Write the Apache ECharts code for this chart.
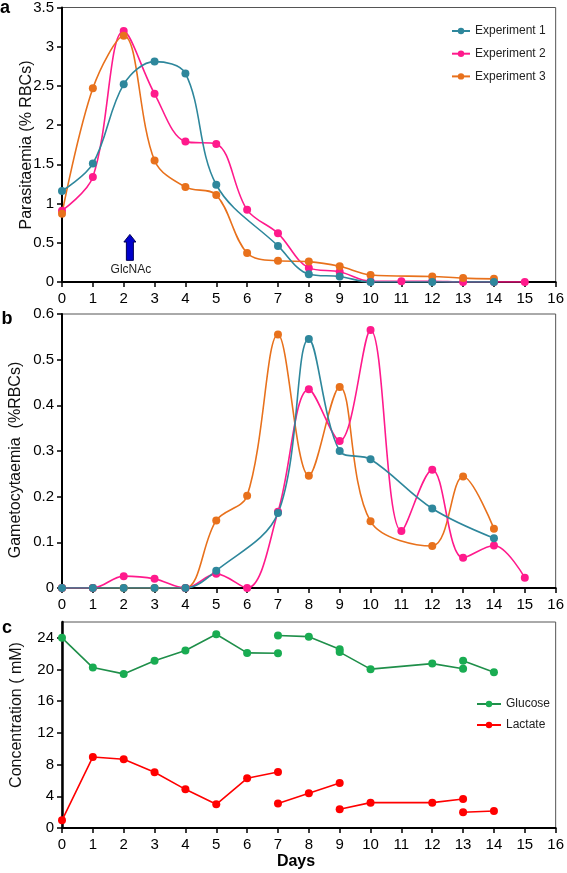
<!DOCTYPE html>
<html><head><meta charset="utf-8">
<script src="https://cdn.jsdelivr.net/npm/echarts@6/dist/echarts.min.js"></script>
<style>html,body{margin:0;padding:0;background:#fff}#c{width:567px;height:873px}</style>
</head><body><div id="c"></div>
<script>
// ---------- Data ----------
const dayTicks = [0,1,2,3,4,5,6,7,8,9,10,11,12,13,14,15,16];

// Panel a: Parasitaemia (% RBCs)
const aDays1 = [0,1,2,3,4,5,7,8,9,10,12,14];
const aExp1  = [1.16,1.51,2.52,2.81,2.66,1.24,0.46,0.10,0.07,0,0,0];
const aDays2 = [0,1,2,3,4,5,6,7,8,9,10,11,12,13,14,15];
const aExp2  = [0.91,1.34,3.2,2.4,1.79,1.76,0.92,0.62,0.18,0.13,0.01,0.01,0.01,0,0,0];
const aDays3 = [0,1,2,3,4,5,6,7,8,9,10,12,13,14];
const aExp3  = [0.87,2.47,3.14,1.55,1.21,1.11,0.37,0.27,0.26,0.2,0.09,0.07,0.05,0.04];
const aTicks = [0,0.5,1,1.5,2,2.5,3,3.5];

// Panel b: Gametocytaemia (%RBCs)
const bDays1 = [0,1,2,3,4,5,7,8,9,10,12,14];
const bExp1  = [0,0,0,0,0,0.038,0.164,0.545,0.30,0.282,0.174,0.109];
const bDays2 = [0,1,2,3,4,5,6,7,8,9,10,11,12,13,14,15];
const bExp2  = [0,0,0.026,0.02,0,0.031,0,0.167,0.435,0.322,0.565,0.125,0.259,0.066,0.093,0.0225];
const bDays3 = [0,1,2,3,4,5,6,7,8,9,10,12,13,14];
const bExp3  = [0,0,0,0,0,0.148,0.202,0.555,0.246,0.44,0.146,0.092,0.244,0.13];
const bTicks = [0,0.1,0.2,0.3,0.4,0.5,0.6];

// Panel c: Concentration (mM) — separate measurement runs
const gluDays = [[0,1,2,3,4,5,6,7],[7,8,9],[9,10,12,13],[13,14]];
const glucose = [[24.0,20.25,19.45,21.1,22.4,24.45,22.1,22.05],[24.3,24.15,22.55],[22.2,20.05,20.75,20.1],[21.1,19.65]];
const lacDays = [[0,1,2,3,4,5,6,7],[7,8,9],[9,10,12,13],[13,14]];
const lactate = [[0.97,8.97,8.67,7.03,4.88,2.99,6.27,7.07],[3.08,4.38,5.68],[2.36,3.2,3.2,3.66],[1.98,2.15]];
const cTicks = [0,4,8,12,16,20,24];

// ---------- Chart ----------
const chart = echarts.init(document.getElementById('c'), null, {renderer:'canvas', width:567, height:873});
const pair = (xs, ys) => xs.map((x,i)=>[x, ys[i]]);
const font = '"Liberation Sans", Arial, sans-serif';
const C1 = '#2E879C', C2 = '#FF1A8C', C3 = '#E8711C', CG = '#1F8F4A', CGm = '#19AC52', CL = '#FF0000';

function xAx(gi){
  return {type:'value', gridIndex:gi, min:0, max:16, interval:1,
    axisLine:{show:true, onZero:false, lineStyle:{color:'#000', width:2}},
    axisTick:{show:true, length:5, lineStyle:{color:'#000', width:1.5}},
    axisLabel:{margin:9, fontSize:15, color:'#000', fontFamily:font, customValues:dayTicks},
    splitLine:{show:false}};
}
function yAx(gi, max, interval, ticks, w){
  return {type:'value', gridIndex:gi, min:0, max:max, interval:interval,
    axisLine:{show:true, onZero:false, lineStyle:{color:'#000', width:w||2}},
    axisTick:{show:true, length:5, lineStyle:{color:'#000', width:1.5}, customValues:ticks},
    axisLabel:{margin:8, fontSize:15, color:'#000', fontFamily:font, customValues:ticks},
    splitLine:{show:false}};
}
function sm(name, color, xs, ys, gi){
  return {name:name, type:'line', xAxisIndex:gi, yAxisIndex:gi, data:pair(xs, ys),
    smooth:0.35, symbol:'circle', symbolSize:8, showSymbol:true,
    lineStyle:{color:color, width:1.6}, itemStyle:{color:color}};
}
function st(name, lineColor, markColor, xs, ys){
  return {name:name, type:'line', xAxisIndex:2, yAxisIndex:2, data:pair(xs, ys),
    symbol:'circle', symbolSize:8, lineStyle:{color:lineColor, width:1.6}, itemStyle:{color:markColor}};
}

const series = [
  sm('Experiment 2', C2, aDays2, aExp2, 0),
  sm('Experiment 3', C3, aDays3, aExp3, 0),
  sm('Experiment 1', C1, aDays1, aExp1, 0),
  sm('Experiment 3', C3, bDays3, bExp3, 1),
  sm('Experiment 2', C2, bDays2, bExp2, 1),
  sm('Experiment 1', C1, bDays1, bExp1, 1)
];
gluDays.forEach((d,i)=>series.push(st('Glucose', CG, CGm, d, glucose[i])));
lacDays.forEach((d,i)=>series.push(st('Lactate', CL, CL, d, lactate[i])));

const gridBase = {show:true, borderColor:'#555', borderWidth:1, backgroundColor:'transparent'};
chart.setOption({
  animation:false,
  textStyle:{fontFamily:font},
  grid:[
    Object.assign({left:62, top:7, width:496, height:275}, gridBase),
    Object.assign({left:62, top:314, width:496, height:274}, gridBase),
    Object.assign({left:62, top:622, width:496, height:206}, gridBase)
  ],
  xAxis:[xAx(0), xAx(1), xAx(2)],
  yAxis:[yAx(0,3.5,0.5,aTicks), yAx(1,0.6,0.1,bTicks), yAx(2,26,4,cTicks,2.5)],
  legend:[
    {data:['Experiment 1','Experiment 2','Experiment 3'], orient:'vertical', left:446, top:19,
     itemWidth:18, itemHeight:8, itemGap:8.7, textStyle:{fontSize:12, color:'#222', fontFamily:font, lineHeight:14}},
    {data:['Glucose','Lactate'], orient:'vertical', left:471, top:692,
     itemWidth:24, itemHeight:8, itemGap:7, textStyle:{fontSize:12, color:'#222', fontFamily:font, lineHeight:14}}
  ],
  series:series
});

// Annotations
const p = (d, v) => chart.convertToPixel({gridIndex:0}, [d, v]);
const tip = p(2.2, 0.607), hb = p(2.2, 0.51), bot = p(2.2, 0.276), lab = p(2.2, 0.158);
const ax = tip[0];
chart.setOption({graphic:[
  {type:'polygon', shape:{points:[[ax, tip[1]],[ax+6, hb[1]],[ax+3.5, hb[1]],[ax+3.5, bot[1]],[ax-3.5, bot[1]],[ax-3.5, hb[1]],[ax-6, hb[1]]]},
   style:{fill:'#0000CC', stroke:'#000055', lineWidth:1}, z:10},
  {type:'text', x:ax+1, y:lab[1], style:{text:'GlcNAc', font:'12px '+font, fill:'#222', textAlign:'center', textVerticalAlign:'middle'}},
  {type:'text', x:5, y:8, style:{text:'a', font:'bold 18px '+font, fill:'#000', textAlign:'center', textVerticalAlign:'middle'}},
  {type:'text', x:7, y:319, style:{text:'b', font:'bold 18px '+font, fill:'#000', textAlign:'center', textVerticalAlign:'middle'}},
  {type:'text', x:7, y:628, style:{text:'c', font:'bold 18px '+font, fill:'#000', textAlign:'center', textVerticalAlign:'middle'}},
  {type:'text', x:27, y:145, rotation:Math.PI/2, style:{text:'Parasitaemia (% RBCs)', font:'16px '+font, fill:'#111', textAlign:'center', textVerticalAlign:'middle'}},
  {type:'text', x:16, y:460, rotation:Math.PI/2, style:{text:'Gametocytaemia  (%RBCs)', font:'16px '+font, fill:'#111', textAlign:'center', textVerticalAlign:'middle'}},
  {type:'text', x:17, y:715, rotation:Math.PI/2, style:{text:'Concentration ( mM)', font:'16px '+font, fill:'#111', textAlign:'center', textVerticalAlign:'middle'}},
  {type:'text', x:296, y:862, style:{text:'Days', font:'bold 16px '+font, fill:'#000', textAlign:'center', textVerticalAlign:'middle'}}
]});
</script></body></html>
